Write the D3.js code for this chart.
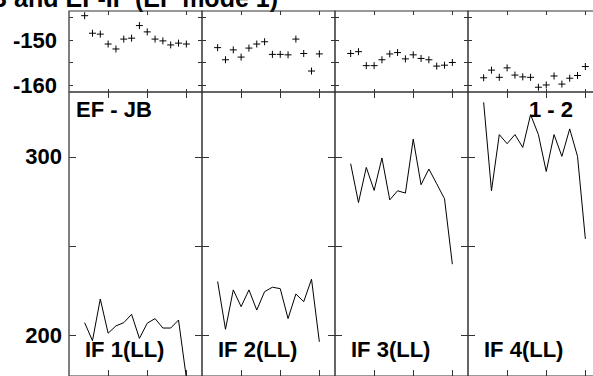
<!DOCTYPE html>
<html><head><meta charset="utf-8">
<script src="https://cdn.jsdelivr.net/npm/d3@7"></script>
<style>
body{margin:0;background:#fff;}
svg{display:block;font-family:"Liberation Sans",Arial,sans-serif;font-weight:bold;}
</style></head>
<body><svg id="c" width="593" height="376"></svg>
<script>
const xValues = [2,3,4,5,6,7,8,9,10,11,12,13,14,15];
const xTicks = [5,10,15];
const topTicks = [-145,-150,-155,-160];
const topTickLabels = [-150,-160];
const botTicks = [300,250,200];
const botTickLabels = [300,200];
const panelLabels = ["IF 1(LL)","IF 2(LL)","IF 3(LL)","IF 4(LL)"];
const titleText = "EF-JB and EF-IF (EF mode 1)";
const cornerLeft = "EF - JB";
const cornerRight = "1 - 2";

const topSeries1 = [-144.6,-148.5,-148.7,-150.9,-152.0,-149.8,-149.6,-146.8,-148.2,-149.8,-150.2,-151.1,-150.7,-150.9];
const topSeries2 = [-151.7,-154.4,-152.2,-153.8,-151.8,-150.9,-150.4,-153.2,-153.2,-153.3,-149.8,-153.0,-156.9,-153.1];
const topSeries3 = [-153.0,-152.6,-155.7,-155.7,-154.4,-153.1,-152.8,-154.2,-153.3,-154.1,-154.4,-155.8,-155.6,-155.0];
const topSeries4 = [-158.4,-156.7,-158.3,-156.2,-157.8,-158.2,-158.3,-160.5,-160.0,-158.0,-159.8,-158.5,-157.9,-155.9];

const botSeries1 = [206.9,196.8,220.2,201.0,205.1,206.9,211.6,198.1,206.6,209.2,203.9,203.9,208.4,176.0];
const botSeries2 = [230.0,203.2,225.3,215.9,225.3,214.0,224.3,226.8,226.0,209.2,223.0,218.7,231.3,196.2];
const botSeries3 = [296.1,274.3,294.0,281.1,299.3,275.8,280.9,279.6,309.9,284.3,293.1,284.8,276.4,239.7];
const botSeries4 = [330.5,280.9,312.4,307.3,312.4,305.2,323.6,312.4,291.7,312.4,300.2,315.6,300.2,253.9];

const topSeries = [topSeries1,topSeries2,topSeries3,topSeries4];
const botSeries = [botSeries1,botSeries2,botSeries3,botSeries4];

const svg = d3.select("#c");
const left = 69, pw = 133;
const topY0 = 11, topY1 = 92, botY1 = 376;
const frame = "#333";

const yTop = d3.scaleLinear().domain([-161.56,-143.56]).range([topY1, topY0]);
const yBot = d3.scaleLinear().domain([177, 336.3]).range([botY1, topY1]);

// title
svg.append("text").attr("x",278).attr("y",7).attr("text-anchor","end")
  .attr("font-size",25).text(titleText);

const defs = svg.append("defs");

for (let i=0;i<4;i++){
  const x0 = left + i*pw;
  const x = d3.scaleLinear().domain([0,17]).range([x0, x0+pw]);
  defs.append("clipPath").attr("id","clip"+i).append("rect")
    .attr("x",x0).attr("y",topY1).attr("width",pw).attr("height",botY1-topY1);

  svg.append("rect").attr("x",x0).attr("y",topY0).attr("width",pw).attr("height",topY1-topY0)
    .attr("fill","none").attr("stroke",frame);
  svg.append("rect").attr("x",x0).attr("y",topY1).attr("width",pw).attr("height",botY1-topY1)
    .attr("fill","none").attr("stroke",frame);

  const g = svg.append("g").attr("stroke",frame).attr("stroke-width",1);
  xTicks.forEach(t=>{
    const xp = Math.round(x(t))+0.5;
    g.append("line").attr("x1",xp).attr("x2",xp).attr("y1",topY0).attr("y2",topY0+4);
    g.append("line").attr("x1",xp).attr("x2",xp).attr("y1",topY1).attr("y2",topY1-3);
    g.append("line").attr("x1",xp).attr("x2",xp).attr("y1",topY1).attr("y2",topY1+6);
    g.append("line").attr("x1",xp).attr("x2",xp).attr("y1",botY1).attr("y2",botY1-6);
  });
  topTicks.forEach(t=>{
    const yp = Math.round(yTop(t))+0.5;
    g.append("line").attr("x1",x0).attr("x2",x0+4).attr("y1",yp).attr("y2",yp);
    g.append("line").attr("x1",x0+pw).attr("x2",x0+pw-4).attr("y1",yp).attr("y2",yp);
  });
  botTicks.forEach(t=>{
    const yp = Math.round(yBot(t))+0.5;
    g.append("line").attr("x1",x0).attr("x2",x0+7).attr("y1",yp).attr("y2",yp);
    g.append("line").attr("x1",x0+pw).attr("x2",x0+pw-7).attr("y1",yp).attr("y2",yp);
  });

  const pts = topSeries[i];
  svg.append("g").selectAll("path").data(pts).join("path")
    .attr("d",(d,j)=>{const cx=x(xValues[j]), cy=yTop(d); return `M${cx-3.5},${cy}H${cx+3.5}M${cx},${cy-3.5}V${cy+3.5}`;})
    .attr("stroke","#000").attr("stroke-width",1).attr("fill","none");

  const line = d3.line().x((d,j)=>x(xValues[j])).y(d=>yBot(d));
  svg.append("path").datum(botSeries[i]).attr("d",line)
    .attr("fill","none").attr("stroke","#000").attr("stroke-width",1)
    .attr("clip-path",`url(#clip${i})`);

  svg.append("text").attr("x",x0+16).attr("y",357).attr("font-size",22).text(panelLabels[i]);
}

svg.append("line").attr("x1",left).attr("x2",left).attr("y1",topY0).attr("y2",botY1).attr("stroke","#666");

topTickLabels.forEach(t=>{
  svg.append("text").attr("x",57).attr("y",yTop(t)).attr("dy","0.35em").attr("text-anchor","end")
    .attr("font-size",22).text(t);
});
botTickLabels.forEach(t=>{
  svg.append("text").attr("x",62).attr("y",yBot(t)).attr("dy","0.35em").attr("text-anchor","end")
    .attr("font-size",22).text(t);
});

svg.append("text").attr("x",76).attr("y",117).attr("font-size",22).text(cornerLeft);
svg.append("text").attr("x",left+4*pw-28).attr("y",117).attr("text-anchor","end").attr("font-size",22).text(cornerRight);
</script></body></html>
